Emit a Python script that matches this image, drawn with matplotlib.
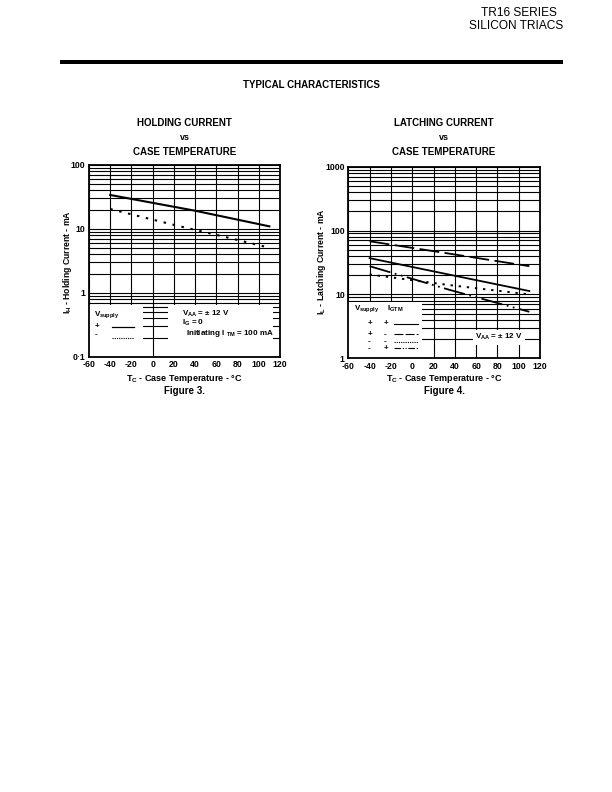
import matplotlib
matplotlib.use("Agg")
import matplotlib.pyplot as plt
from matplotlib.patches import Rectangle

plt.rcParams['font.family'] = ['Liberation Sans Narrow', 'Liberation Sans', 'DejaVu Sans']
plt.rcParams['mathtext.default'] = 'regular'

# Figure 3: holding current vs case temperature
hold_t_pos = [-40, 40, 110]
hold_i_pos = [34, 19.3, 11]
hold_t_neg = [-40, 20, 60, 108]
hold_i_neg = [20.5, 11.6, 8.1, 5.2]

# Figure 4: latching current vs case temperature (Vsupply, IGTM)
latch_t = [-40, 35, 110]
latch_pp = [37, 20.4, 11.3]
latch_pm = [68, 43.5, 27.7]
latch_mm = [20.5, 14, 10]
latch_mp = [27.7, 11.8, 5.35]

x_ticks = [-60, -40, -20, 0, 20, 40, 60, 80, 100, 120]
hold_yticks = [0.1, 1, 10, 100]
hold_ylabels = ['0·1', '1', '10', '100']
latch_yticks = [1, 10, 100, 1000]
latch_ylabels = ['1', '10', '100', '1000']

W, H = 612, 792
fig = plt.figure(figsize=(6.12, 7.92), dpi=100)


def fx(px):
    return px / W


def fy(py):
    return 1 - py / H


BOLD = dict(fontweight='bold')
WIDE = ['Liberation Sans', 'DejaVu Sans']

# header
fig.text(fx(557), fy(13), 'TR16 SERIES', ha='right', va='center', fontsize=8.6)
fig.text(fx(563), fy(26), 'SILICON TRIACS', ha='right', va='center', fontsize=8.6)
fig.add_artist(Rectangle((fx(60), fy(63.5)), fx(563) - fx(60), 3.5 / H,
                         transform=fig.transFigure, facecolor='black', edgecolor='none'))
fig.text(fx(311), fy(85), 'TYPICAL CHARACTERISTICS', ha='center', va='center',
         fontsize=7, family=WIDE, **BOLD)


def setup(ax, ylim, yticks, ylabels):
    ax.set_xlim(-60, 120)
    ax.set_yscale('log')
    ax.set_ylim(*ylim)
    ax.set_xticks(x_ticks)
    ax.set_xticklabels([str(t) for t in x_ticks])
    ax.set_yticks(yticks)
    ax.set_yticklabels(ylabels)
    ax.tick_params(axis='both', which='both', length=0, labelsize=6.3, pad=2.5)
    for lab in ax.get_xticklabels() + ax.get_yticklabels():
        lab.set_fontweight('bold')
    ax.set_axisbelow(True)
    ax.grid(True, which='major', color='black', lw=0.8)
    ax.grid(True, which='minor', axis='y', color='black', lw=0.8)
    for s in ax.spines.values():
        s.set_linewidth(1.3)


def white_box(ax, x0, x1, y0, y1):
    ax.add_patch(Rectangle((x0, y0), x1 - x0, y1 - y0, facecolor='white',
                           edgecolor='none', zorder=1.5))


TXT = dict(fontsize=5.8, fontweight='bold', va='center', zorder=4)

# ---- Figure 3 ----
ax1 = fig.add_axes([fx(89), fy(357), fx(280) - fx(89), (357 - 165) / H])
setup(ax1, (0.1, 100), hold_yticks, hold_ylabels)
ax1.plot(hold_t_pos, hold_i_pos, color='black', lw=1.5, zorder=3)
ax1.plot(hold_t_neg, hold_i_neg, color='black', lw=1.5, dashes=(1.2, 3.2), zorder=3)
white_box(ax1, -60, -9, 0.1, 0.65)
white_box(ax1, 14, 113, 0.1, 0.65)
ax1.text(-55, 0.46, 'V$_{supply}$', **TXT)
ax1.text(-55, 0.30, '+', **TXT)
ax1.text(-55, 0.225, '-', **TXT)
ax1.plot([0.12, 0.235], [0.155, 0.155], transform=ax1.transAxes, color='black', lw=0.9, zorder=4)
ax1.plot([0.12, 0.235], [0.1, 0.1], transform=ax1.transAxes, color='black', lw=0.8,
         dashes=(1, 1), zorder=4)
ax1.text(28, 0.47, 'V$_{AA}$ = ± 12 V', **TXT)
ax1.text(28, 0.335, 'I$_G$ = 0', **TXT)
ax1.text(31, 0.232, 'Initiating I $_{TM}$ = 100 mA', **TXT)

# ---- Figure 4 ----
ax2 = fig.add_axes([fx(348.3), fy(358.3), fx(540) - fx(348.3), (358.3 - 166.7) / H])
setup(ax2, (1, 1000), latch_yticks, latch_ylabels)
ax2.plot(latch_t, latch_pp, color='black', lw=1.3, zorder=3)
ax2.plot(latch_t, latch_pm, color='black', lw=1.3, dashes=(11, 3), zorder=3)
ax2.plot(latch_t, latch_mm, color='black', lw=1.4, dashes=(1.2, 3), zorder=3)
ax2.plot(latch_t, latch_mp, color='black', lw=1.3, dashes=(12, 2.5, 1, 2.5, 1, 2.5), zorder=3)
white_box(ax2, -60, 9, 1, 7.5)
white_box(ax2, 57, 106, 1.6, 2.75)
ax2.text(-55, 6.0, 'V$_{supply}$', **TXT)
ax2.text(-24, 6.0, 'I$_{GTM}$', **TXT)
rows_y = [3.5, 2.37, 1.81, 1.43]
col1 = ['+', '+', '-', '-']
col2 = ['+', '-', '-', '+']
row_dashes = [None, (8, 2), (1, 1), (6, 1.5, 1, 1.5, 1, 1.5)]
for yv, a, b, d in zip(rows_y, col1, col2, row_dashes):
    ax2.text(-42, yv, a, **TXT)
    ax2.text(-26.5, yv, b, **TXT)
    kw = dict(color='black', lw=0.8, zorder=4)
    if d is not None:
        kw['dashes'] = d
    ax2.plot([-17.5, 5.5], [yv, yv], **kw)
ax2.text(81, 2.15, 'V$_{AA}$ = ± 12 V', ha='center', **TXT)

# titles, axis labels and captions
panels = [(184.5, 67, 'HOLDING CURRENT', 'I$_H$ - Holding Current - mA', 'Figure 3.'),
          (444, 322, 'LATCHING CURRENT', 'I$_L$ - Latching Current - mA', 'Figure 4.')]
for cx, ylx, title, ylab, cap in panels:
    fig.text(fx(cx), fy(123), title, ha='center', va='center', fontsize=7, family=WIDE, **BOLD)
    fig.text(fx(cx), fy(137), 'vs', ha='center', va='center', fontsize=6.5, family=WIDE, **BOLD)
    fig.text(fx(cx), fy(152), 'CASE TEMPERATURE', ha='center', va='center', fontsize=7,
             family=WIDE, **BOLD)
    fig.text(fx(ylx), fy(262), ylab, rotation=90, ha='center', va='center',
             fontsize=6.2, **BOLD)
    fig.text(fx(cx), fy(379), 'T$_C$ - Case Temperature - °C', ha='center', va='center',
             fontsize=6.5, **BOLD)
    fig.text(fx(cx), fy(391), cap, ha='center', va='center', fontsize=7, family=WIDE, **BOLD)

fig.savefig('out.png', dpi=100)
